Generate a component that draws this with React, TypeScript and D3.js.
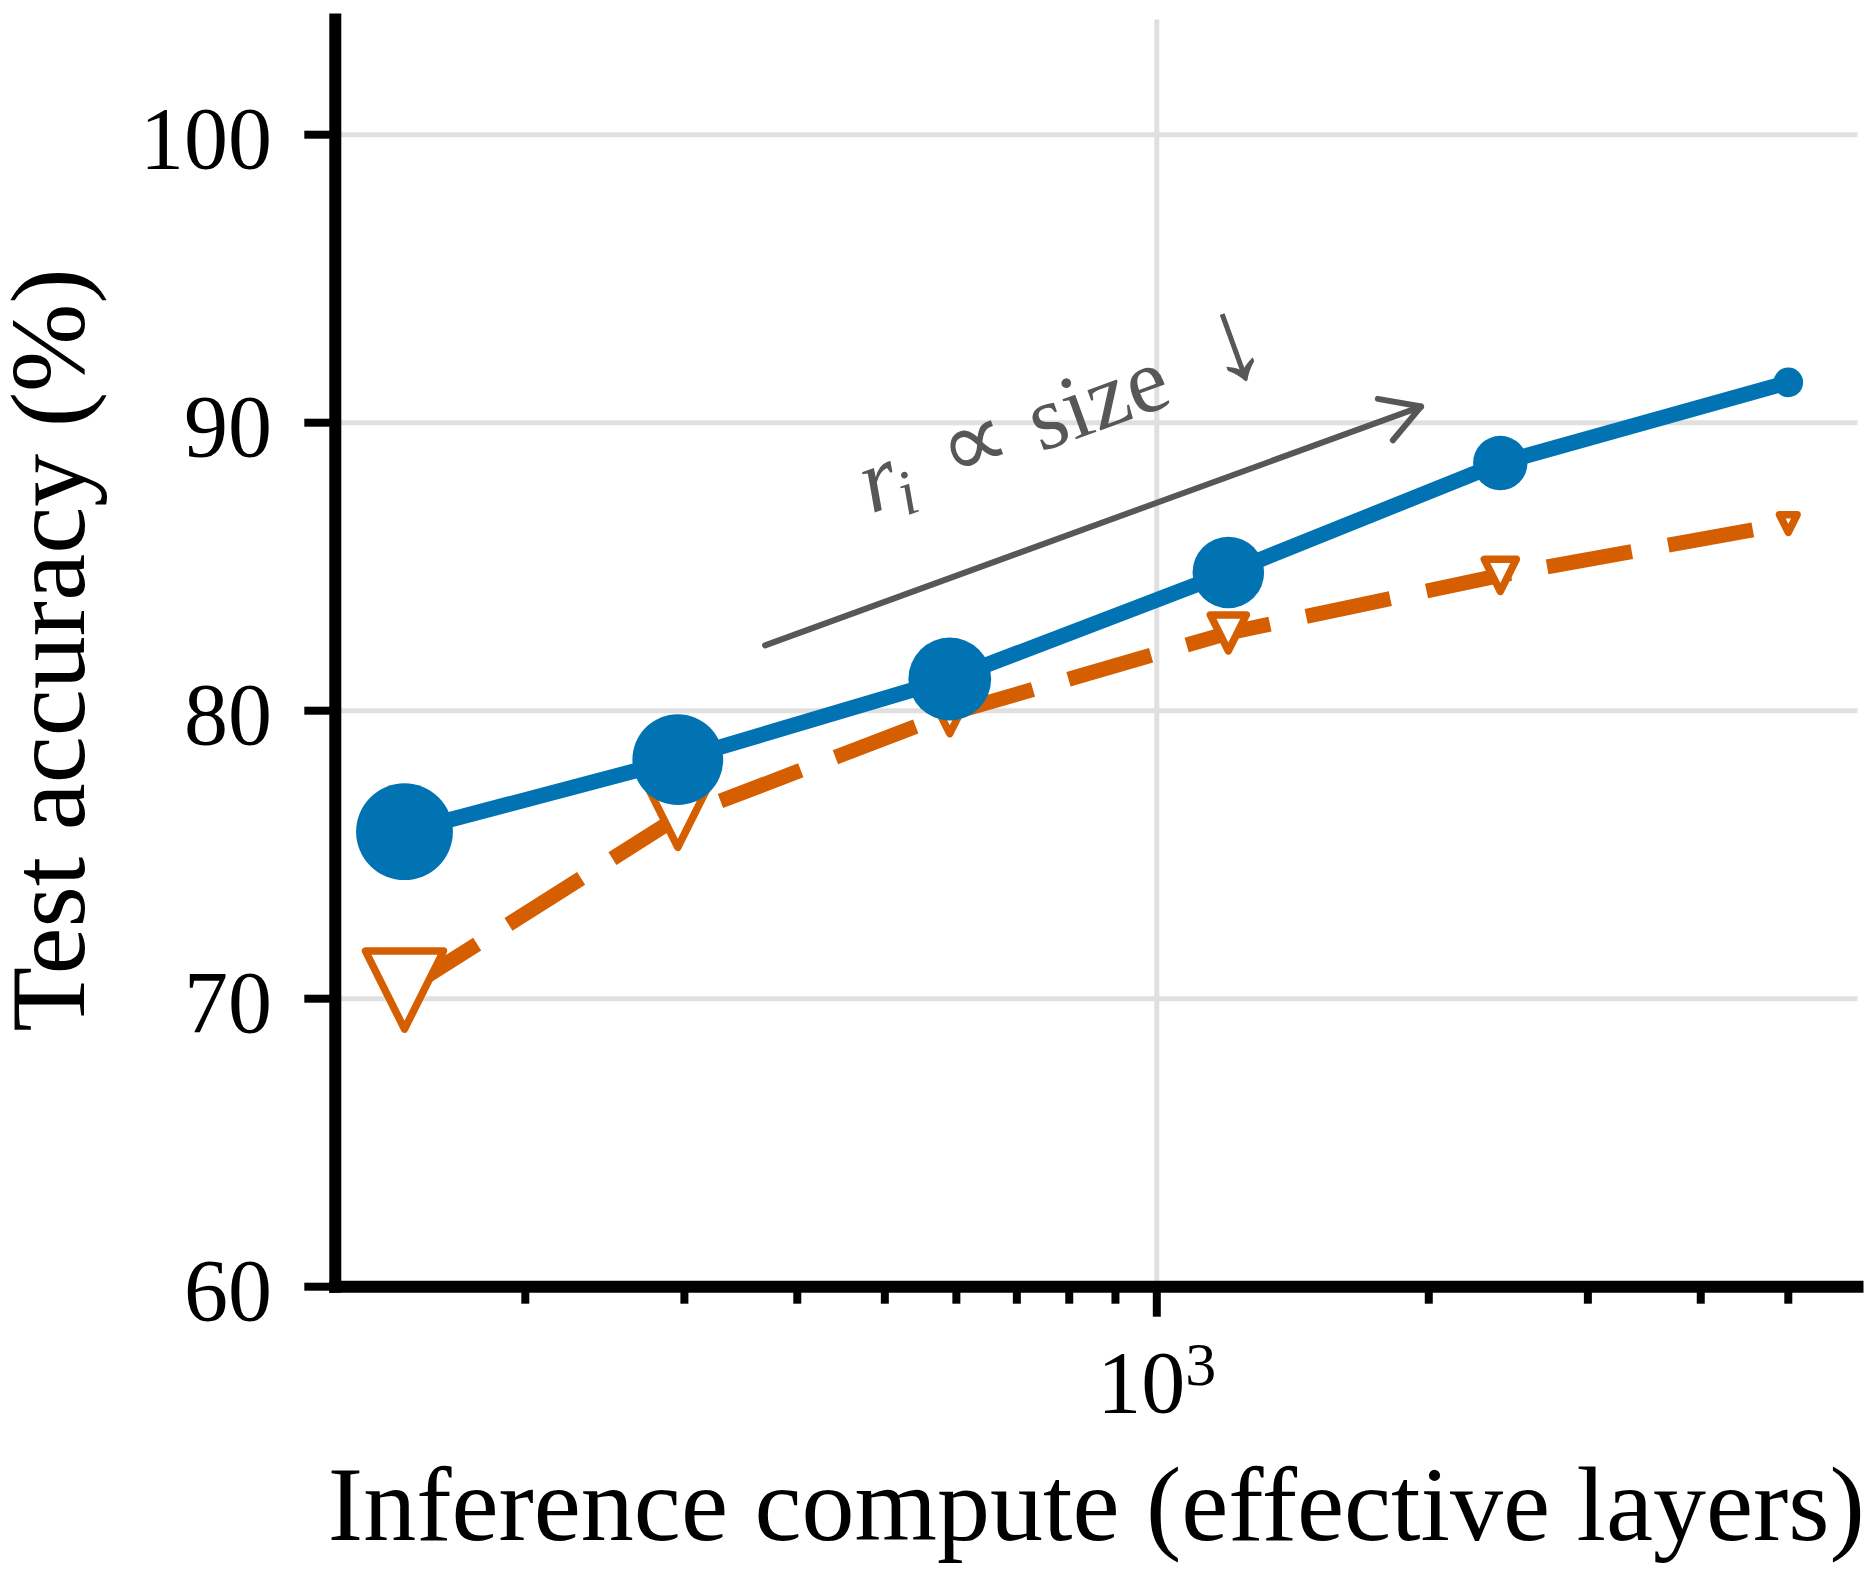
import React from "react";
import * as d3 from "d3";

// inference compute (effective layers), log axis
const computeLayers = [147, 295, 590, 1200, 2400, 5000];
// test accuracy (%)
const accSolid = [75.8, 78.3, 81.1, 84.8, 88.6, 91.4];
const accDashed = [70.3, 76.3, 79.9, 82.7, 84.7, 86.5];
const yTicks = [60, 70, 80, 90, 100];
const xMajorTicks = [1000];
const xMinorTicks = [200, 300, 400, 500, 600, 700, 800, 900, 2000, 3000, 4000, 5000];

// marker sizes shrink with model size (px)
const solidRadius = [48.4, 45.4, 41.4, 35.8, 27.2, 14.8];
const dashedHalf = [39, 30, 20, 18, 16, 8.8];

// annotation (data coords)
const arrowFrom = { x: 368.5, y: 82.27 };
const arrowTo = { x: 1961, y: 90.56 };
const labelAt = { x: 483, y: 86.84 };

const W = 1876;
const H = 1576;
const BLUE = "#0173b2";
const ORANGE = "#d55e00";
const GRAY = "#575757";
const FONT = "'Liberation Serif', 'Times New Roman', serif";

export default function App() {
  const lx = computeLayers.map((v) => Math.log10(v));
  const pad = (d3.max(lx)! - d3.min(lx)!) * 0.05;
  const x = d3
    .scaleLog()
    .domain([10 ** (d3.min(lx)! - pad), 10 ** (d3.max(lx)! + pad)])
    .range([335.3, 1857.5]);
  const y = d3.scaleLinear().domain([60, 104]).range([1286.7, 19.5]);

  const [x0, x1] = x.range();
  const [y0, y1] = y.range();

  const line = d3
    .line<number>()
    .x((_, i) => x(computeLayers[i]))
    .y((d) => d);

  const solidPath = line(accSolid.map((v) => y(v)))!;
  const dashedPath = line(accDashed.map((v) => y(v)))!;

  const tri = (cx: number, cy: number, s: number) =>
    `M${cx - s},${cy - s}L${cx + s},${cy - s}L${cx},${cy + s}Z`;

  // arrow
  const ax0 = x(arrowFrom.x);
  const ay0 = y(arrowFrom.y);
  const ax1 = x(arrowTo.x);
  const ay1 = y(arrowTo.y);
  const len = Math.hypot(ax1 - ax0, ay1 - ay0);
  const ux = (ax1 - ax0) / len;
  const uy = (ay1 - ay0) / len;
  const headL = 38;
  const headW = 22;
  const angle = (Math.atan2(ay1 - ay0, ax1 - ax0) * 180) / Math.PI;

  return (
    <svg
      width={W}
      height={H}
      style={{ position: "absolute", left: 0, top: 0, background: "#fff" }}
      fontFamily={FONT}
    >
      <rect width={W} height={H} fill="#fff" />

      {/* grid */}
      <g stroke="#e0e0e0" strokeWidth={5}>
        {yTicks
          .filter((t) => t > 60)
          .map((t) => (
            <line key={t} x1={x0} x2={x1} y1={y(t)} y2={y(t)} />
          ))}
        {xMajorTicks.map((t) => (
          <line key={t} x1={x(t)} x2={x(t)} y1={y0} y2={y1} />
        ))}
      </g>

      {/* dashed series */}
      <path
        d={dashedPath}
        fill="none"
        stroke={ORANGE}
        strokeWidth={15}
        strokeDasharray="86 37"
      />
      {accDashed.map((v, i) => (
        <path
          key={i}
          d={tri(x(computeLayers[i]), y(v), dashedHalf[i])}
          fill="#fff"
          stroke={ORANGE}
          strokeWidth={7.5}
          strokeLinejoin="round"
        />
      ))}

      {/* solid series */}
      <path d={solidPath} fill="none" stroke={BLUE} strokeWidth={15.5} />
      {accSolid.map((v, i) => (
        <circle
          key={i}
          cx={x(computeLayers[i])}
          cy={y(v)}
          r={solidRadius[i]}
          fill={BLUE}
        />
      ))}

      {/* annotation arrow */}
      <g stroke={GRAY} strokeWidth={6} fill="none" strokeLinecap="round" strokeLinejoin="round">
        <line x1={ax0} y1={ay0} x2={ax1} y2={ay1} />
        <path
          d={`M${ax1 - headL * ux - headW * uy},${ay1 - headL * uy + headW * ux}L${ax1},${ay1}L${
            ax1 - headL * ux + headW * uy
          },${ay1 - headL * uy - headW * ux}`}
        />
      </g>
      <g
        transform={`translate(${x(labelAt.x)},${y(labelAt.y)}) rotate(${angle})`}
        fill={GRAY}
        fontSize={92}
      >
        <text x={0} y={0} fontStyle="italic">
          r
        </text>
        <text x={32} y={14} fontStyle="italic" fontSize={64}>
          i
        </text>
        <text x={86} y={0} fontSize={96}>
          ∝
        </text>
        <text x={180} y={0}>
          size
        </text>
        <text x={398} y={0} fontSize={120} textAnchor="middle">
          ↓
        </text>
      </g>

      {/* axes */}
      <g stroke="#000" strokeLinecap="square">
        <line x1={x0} x2={x0} y1={y0} y2={y1} strokeWidth={12} />
        <line x1={x0} x2={x1} y1={y0} y2={y0} strokeWidth={12} />
      </g>
      <g stroke="#000" strokeWidth={8}>
        {yTicks.map((t) => (
          <line key={t} x1={x0 - 31} x2={x0} y1={y(t)} y2={y(t)} />
        ))}
        {xMajorTicks.map((t) => (
          <line key={t} x1={x(t)} x2={x(t)} y1={y0} y2={y0 + 30} />
        ))}
        {xMinorTicks
          .filter((t) => x(t) <= x1)
          .map((t) => (
            <line key={t} x1={x(t)} x2={x(t)} y1={y0} y2={y0 + 17} />
          ))}
      </g>

      {/* tick labels */}
      <g fontSize={88} fill="#000" textAnchor="end">
        {yTicks.map((t) => (
          <text key={t} x={272} y={y(t) + 33}>
            {t}
          </text>
        ))}
      </g>
      {xMajorTicks.map((t) => (
        <text key={t} x={x(t)} y={1411.7} fontSize={88} textAnchor="middle">
          10
          <tspan fontSize={62} dy={-27}>
            {Math.round(Math.log10(t))}
          </tspan>
        </text>
      ))}

      {/* axis labels */}
      <text x={(x0 + x1) / 2} y={1540} fontSize={106} textAnchor="middle">
        Inference compute (effective layers)
      </text>
      <text
        transform={`translate(84,${(y0 + y1 - 6) / 2}) rotate(-90)`}
        fontSize={106}
        textAnchor="middle"
      >
        Test accuracy (%)
      </text>
    </svg>
  );
}
